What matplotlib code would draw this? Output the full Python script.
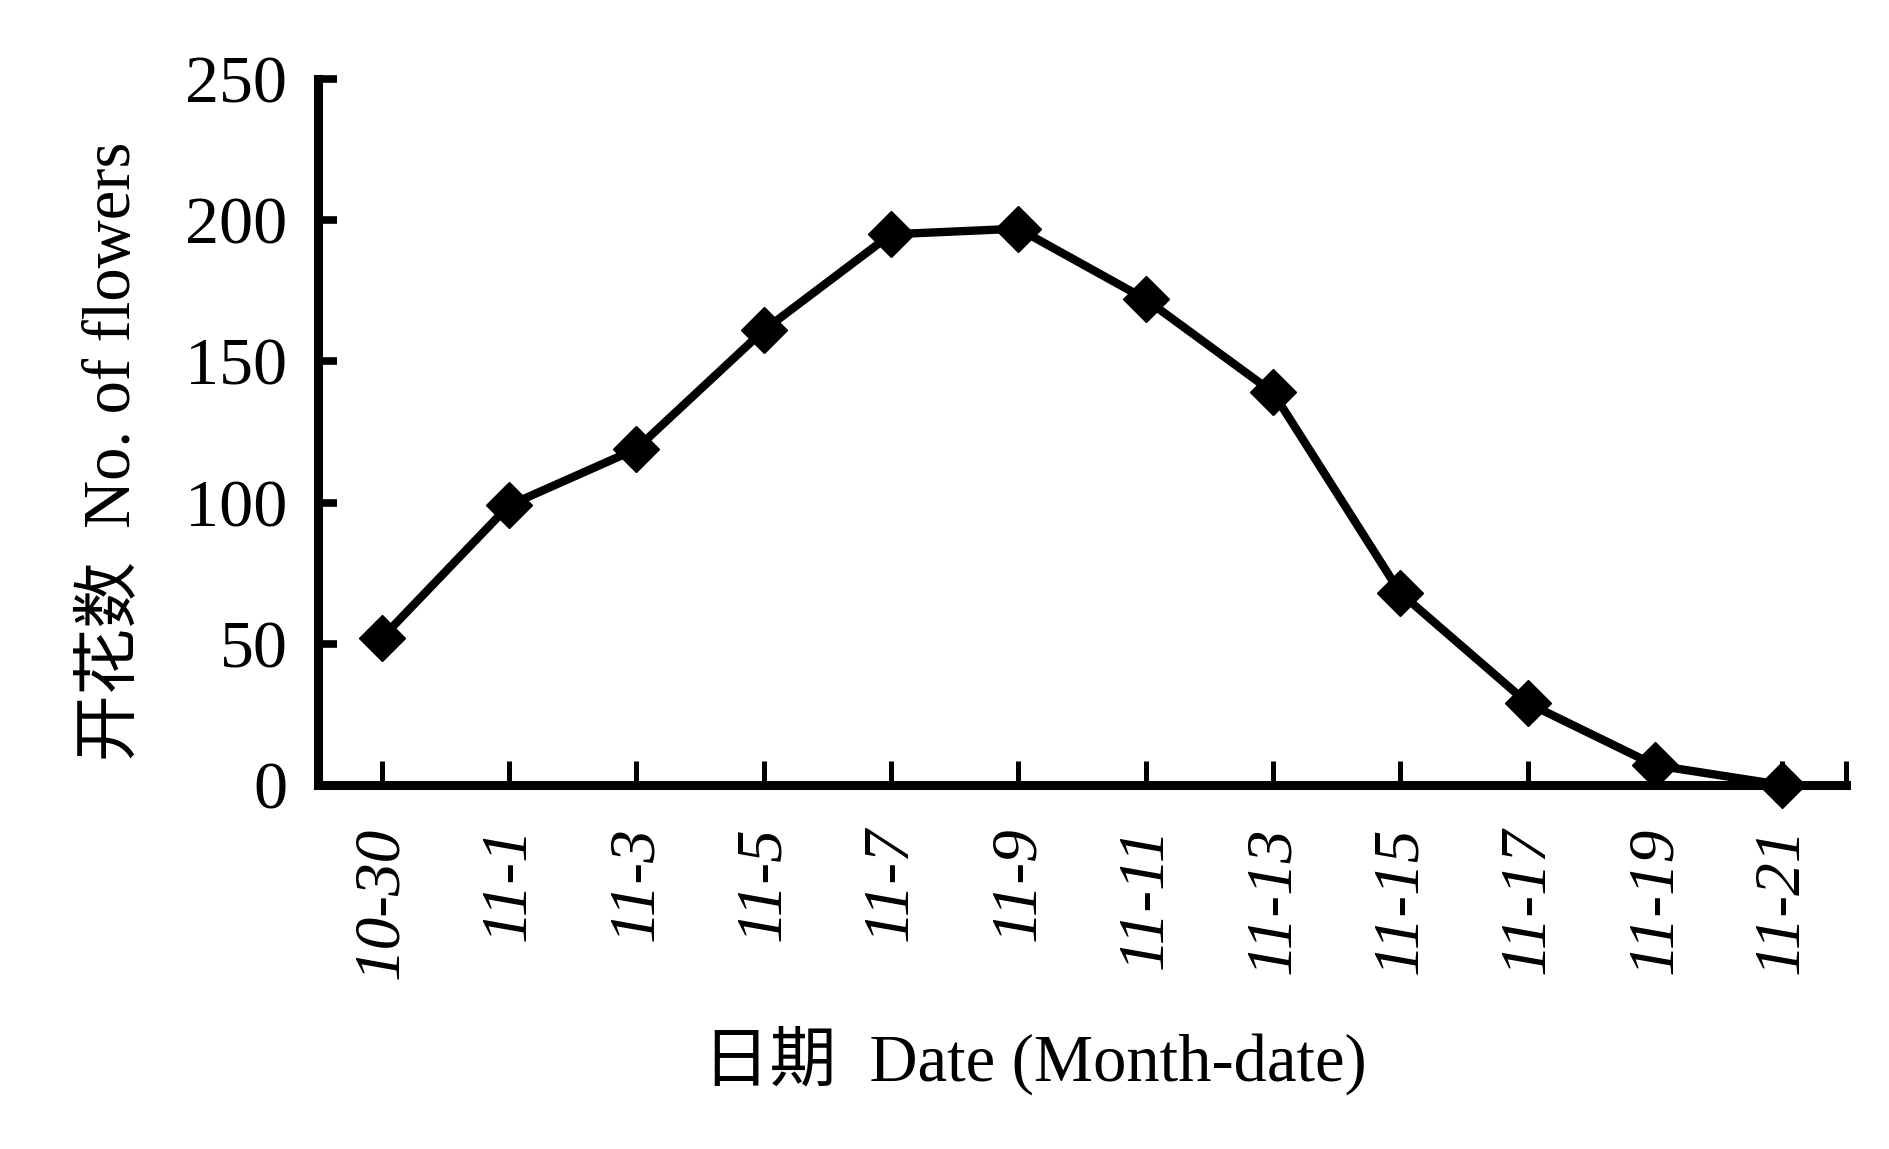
import matplotlib
matplotlib.use('Agg')
import matplotlib.pyplot as plt

# Datos del gráfico
fechas = ["10-30", "11-1", "11-3", "11-5", "11-7", "11-9",
          "11-11", "11-13", "11-15", "11-17", "11-19", "11-21"]
flores = [52, 99, 119, 161, 195, 197, 172, 139, 68, 29, 7, 0]
ticks_y = [0, 50, 100, 150, 200, 250]

fuentes = ['Liberation Serif', 'Noto Sans CJK SC', 'DejaVu Sans']
plt.rcParams['font.family'] = fuentes

fig = plt.figure(figsize=(18.9, 11.49), dpi=100)
ax = fig.add_axes([318 / 1890, 1 - 785 / 1149, 1528 / 1890, 706 / 1149])

x = list(range(len(fechas)))
ax.plot(x, flores, color='black', linewidth=6, marker='D', markersize=23,
        markerfacecolor='black', markeredgecolor='black', clip_on=False, zorder=5)

ax.set_xlim(-0.5, len(fechas) - 0.5)
ax.set_ylim(0, 250)

for lado in ['top', 'right']:
    ax.spines[lado].set_visible(False)
for lado in ['left', 'bottom']:
    ax.spines[lado].set_linewidth(6.5)
    ax.spines[lado].set_capstyle('projecting')

ax.set_xticks(x + [len(fechas) - 0.5])
ax.set_xticklabels(fechas + [''], rotation=90, fontstyle='italic',
                   fontsize=47, va='top', ha='center')
ax.set_yticks(ticks_y)
ax.set_yticklabels([str(v) for v in ticks_y], fontsize=49)

ax.tick_params(axis='x', direction='in', length=17, width=3.6, pad=30)
ax.tick_params(axis='y', direction='in', length=14, width=5.5, pad=22)

ax.set_xlabel('日期  Date (Month-date)', fontsize=48)
ax.xaxis.set_label_coords(0.469, -0.39)
ax.xaxis.label.set_va('center')
ax.set_ylabel('开花数  No. of flowers', fontsize=48)
ax.yaxis.set_label_coords(-0.135, 0.472)
ax.yaxis.label.set_va('center')

fig.savefig('out.png', dpi=100, facecolor='white')
